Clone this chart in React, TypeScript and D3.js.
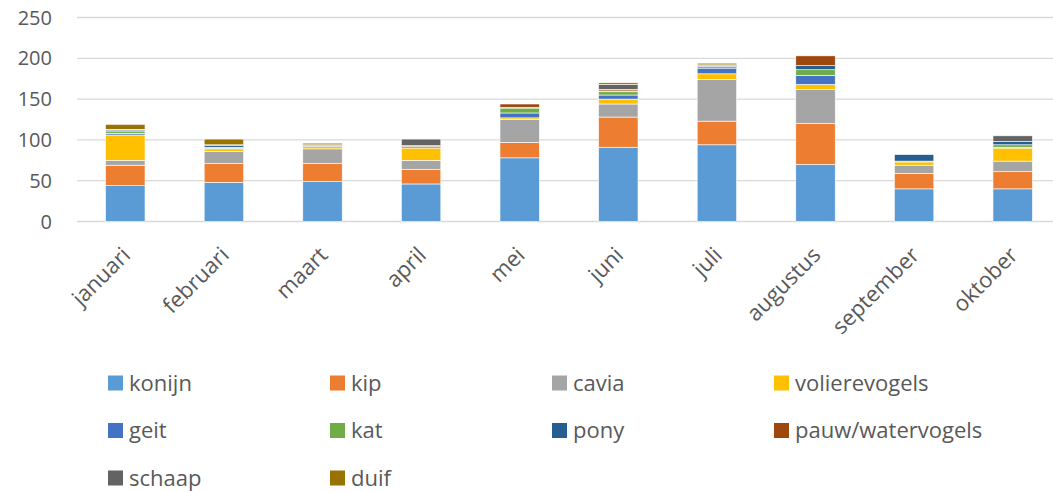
import * as d3 from 'd3';
import { useMemo } from 'react';

const months = ['januari', 'februari', 'maart', 'april', 'mei', 'juni', 'juli', 'augustus', 'september', 'oktober'];
const seriesNames = ['konijn', 'kip', 'cavia', 'volierevogels', 'geit', 'kat', 'pony', 'pauw/watervogels', 'schaap', 'duif'];
const colors = ['#5B9BD5', '#ED7D31', '#A5A5A5', '#FFC000', '#4472C4', '#70AD47', '#255E91', '#9E480E', '#636363', '#997300'];

const konijn = [44, 48, 49, 46, 78, 91, 94, 70, 40, 40];
const kip = [25, 23, 22, 18, 19, 37, 29, 50, 19, 21];
const cavia = [6, 15, 18, 11, 28, 16, 51, 42, 10, 13];
const volierevogels = [31, 3, 3, 15, 2, 6, 7, 6, 4, 16];
const geit = [2, 1, 1, 0, 6, 5, 7, 11, 1, 1];
const kat = [2, 1, 0, 2, 6, 4, 2, 7, 0, 3];
const pony = [2, 2, 1, 0, 1, 1, 1, 5, 8, 4];
const pauw = [0, 0, 0, 1, 4, 2, 1, 12, 0, 0];
const schaap = [1, 1, 0, 8, 0, 6, 0, 0, 0, 7];
const duif = [6, 7, 2, 0, 0, 2, 2, 0, 0, 0];

const yTicks = [0, 50, 100, 150, 200, 250];

const seriesValues = [konijn, kip, cavia, volierevogels, geit, kat, pony, pauw, schaap, duif];

const width = 1053;
const height = 492;
const FONT = '"Open Sans", "Noto Sans", sans-serif';
const TEXT = '#595959';

export default function App() {
  const rows = useMemo(
    () =>
      months.map((m, i) => {
        const row: Record<string, any> = { month: m };
        seriesNames.forEach((s, k) => (row[s] = seriesValues[k][i]));
        return row;
      }),
    []
  );

  const stacked = useMemo(() => d3.stack().keys(seriesNames)(rows as any), [rows]);

  const xScale = d3.scaleBand().domain(months).range([76, 1062]).paddingInner(0.6).paddingOuter(0.3);
  const yScale = d3.scaleLinear().domain([0, 250]).range([221.5, 17.5]);

  return (
    <div style={{ position: 'absolute', left: 0, top: 0 }}>
      <svg width={width} height={height} style={{ display: 'block', background: '#fff' }}>
        {/* gridlines */}
        {yTicks.map((t) => (
          <line key={t} x1={77} x2={width} y1={yScale(t)} y2={yScale(t)} stroke="#d9d9d9" strokeWidth={1.3} />
        ))}
        {yTicks.map((t) => (
          <text key={'l' + t} x={52} y={yScale(t)} dy="0.35em" textAnchor="end" fontSize={20} fontFamily={FONT} fill={TEXT}>
            {t}
          </text>
        ))}

        {/* bars */}
        {stacked.map((layer, k) => (
          <g key={layer.key} fill={colors[k]}>
            {layer.map((d, i) =>
              d[1] - d[0] > 0 ? (
                <rect
                  key={i}
                  x={xScale(months[i])}
                  width={xScale.bandwidth()}
                  y={yScale(d[1])}
                  height={yScale(d[0]) - yScale(d[1])}
                  stroke="#fff"
                  strokeWidth={0.6}
                />
              ) : null
            )}
          </g>
        ))}

        {/* x labels */}
        {months.map((m) => {
          const cx = (xScale(m) as number) + xScale.bandwidth() / 2;
          return (
            <text
              key={m}
              transform={`translate(${cx + 1},${251}) rotate(-45)`}
              textAnchor="end"
              dy="0.35em"
              fontSize={22}
              fontFamily={FONT}
              fill={TEXT}
            >
              {m}
            </text>
          );
        })}

        {/* legend */}
        {seriesNames.map((s, k) => {
          const col = k % 4;
          const row = Math.floor(k / 4);
          const lx = 108 + col * 222;
          const ly = 383 + row * 47.5;
          return (
            <g key={s} transform={`translate(${lx},${ly})`}>
              <rect x={0} y={-7.5} width={15} height={15} fill={colors[k]} />
              <text x={21} y={0} dy="0.35em" fontSize={22} fontFamily={FONT} fill={TEXT}>
                {s}
              </text>
            </g>
          );
        })}
      </svg>
    </div>
  );
}
